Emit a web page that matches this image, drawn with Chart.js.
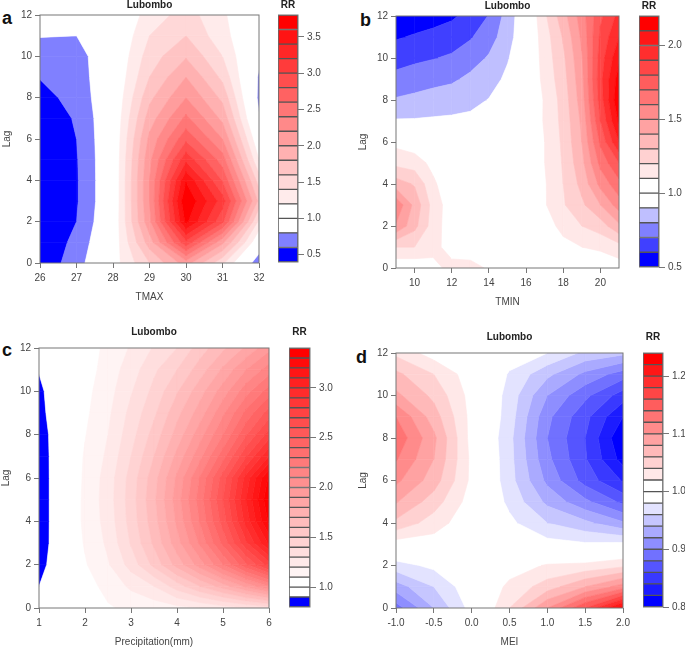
<!DOCTYPE html>
<html>
<head>
<meta charset="utf-8">
<title>Lubombo RR</title>
<script src="https://cdn.jsdelivr.net/npm/chart.js@4"></script>
<style>
  html, body { margin: 0; background: #fff; }
  #page { position: relative; width: 685px; height: 648px; overflow: hidden; }
  canvas { position: absolute; }
  .tag { position: absolute; font: bold 18px "Liberation Sans", Arial, sans-serif; color: #111; line-height: 18px; }
</style>
</head>
<body>
<div id="page">
  <div class="tag" style="left:2px;top:9px">a</div>
  <div class="tag" style="left:360px;top:11px">b</div>
  <div class="tag" style="left:2px;top:341px">c</div>
  <div class="tag" style="left:356px;top:348px">d</div>
</div>
<script>
const lags = [0, 1, 2, 3, 4, 5, 6, 7, 8, 9, 10, 11, 12];
const lagTicks = [0, 2, 4, 6, 8, 10, 12];

// panel a
const tmaxX = [26, 27, 28, 29, 30, 31, 32];
const tmaxRR = [
  [.45, .71, 1.1, 1.6, 2.1, 1.44, .64],
  [.42, .66, 1.05, 1.9, 2.95, 2.05, 1.0],
  [.42, .6, 1.02, 2.15, 3.65, 2.85, 1.35],
  [.42, .58, 1, 2.2, 3.79, 3.1, 1.75],
  [.42, .58, 1, 2.2, 3.58, 2.78, 1.5],
  [.42, .585, 1, 2.15, 3.15, 2.5, 1.2],
  [.43, .6, 1, 2.05, 2.75, 2.2, 1.0],
  [.47, .62, 1, 1.9, 2.45, 1.95, .82],
  [.53, .67, .99, 1.75, 2.2, 1.75, .75],
  [.61, .7, .98, 1.6, 2.0, 1.55, .77],
  [.7, .72, .97, 1.5, 1.78, 1.4, .85],
  [.81, .8, .95, 1.4, 1.6, 1.27, .95],
  [.9, .87, 1, 1.27, 1.5, 1.22, 1.05],
];
const tmaxTicks = [26, 27, 28, 29, 30, 31, 32];
const tmaxLevels = [.4, .6, .8, 1, 1.2, 1.4, 1.6, 1.8, 2, 2.2, 2.4, 2.6, 2.8, 3, 3.2, 3.4, 3.6, 3.8];
const tmaxBarTicks = [.5, 1, 1.5, 2, 2.5, 3, 3.5];

// panel b
const tminX = [9, 10, 11, 12, 13, 14, 15, 16, 17, 18, 19, 20, 21];
const tminRR = [
  [1.02, 1.02, 1.07, 1.13, 1.13, 1.09, 1.04, 1, 1, 1, 1, 1.02, 1.05],
  [1.2, 1.2, 1.13, 1.06, 1.05, 1.03, 1.01, 1, 1.01, 1.06, 1.1, 1.12, 1.16],
  [1.49, 1.33, 1.15, 1.04, 1.03, 1.01, 1, 1, 1.04, 1.14, 1.2, 1.25, 1.38],
  [1.58, 1.37, 1.16, 1.04, 1.02, 1, 1, 1, 1.09, 1.19, 1.28, 1.4, 1.55],
  [1.35, 1.29, 1.12, 1.02, 1.01, 1, 1, 1, 1.09, 1.2, 1.33, 1.53, 1.67],
  [1.17, 1.15, 1.07, 1.01, 1, 1, 1, 1, 1.1, 1.21, 1.37, 1.63, 1.8],
  [1.07, 1.04, 1, 1, .99, .99, 1, 1, 1.1, 1.22, 1.4, 1.72, 2],
  [.91, .91, .915, .92, .93, .96, 1, 1.01, 1.11, 1.23, 1.42, 1.8, 2.12],
  [.81, .825, .84, .85, .865, .905, .97, 1, 1.11, 1.24, 1.45, 1.85, 2.19],
  [.73, .75, .77, .785, .82, .85, .925, 1, 1.13, 1.26, 1.47, 1.87, 2.15],
  [.66, .68, .695, .715, .76, .81, .89, 1, 1.14, 1.28, 1.49, 1.85, 2.08],
  [.59, .61, .63, .65, .69, .76, .85, 1, 1.15, 1.31, 1.52, 1.82, 2],
  [.53, .545, .56, .585, .63, .705, .84, .99, 1.18, 1.36, 1.55, 1.78, 1.93],
];
const tminTicks = [10, 12, 14, 16, 18, 20];
const tminLevels = [.5, .6, .7, .8, .9, 1, 1.1, 1.2, 1.3, 1.4, 1.5, 1.6, 1.7, 1.8, 1.9, 2, 2.1, 2.2];
const tminBarTicks = [.5, 1, 1.5, 2];

// panel c
const precipX = [1, 1.5, 2, 2.5, 3, 3.5, 4, 4.5, 5, 5.5, 6];
const precipRR = [
  [.98, 1, 1.03, 1.09, 1.12, 1.14, 1.17, 1.2, 1.25, 1.3, 1.35],
  [.9, .97, 1.06, 1.13, 1.22, 1.3, 1.45, 1.6, 1.75, 1.92, 2.1],
  [.86, .98, 1.09, 1.19, 1.34, 1.53, 1.74, 1.95, 2.2, 2.48, 2.75],
  [.83, .99, 1.11, 1.22, 1.41, 1.62, 1.86, 2.12, 2.43, 2.78, 3.12],
  [.82, 1, 1.12, 1.24, 1.44, 1.66, 1.92, 2.21, 2.55, 2.94, 3.32],
  [.82, 1, 1.12, 1.25, 1.45, 1.68, 1.95, 2.25, 2.6, 3, 3.39],
  [.82, 1, 1.115, 1.245, 1.44, 1.66, 1.92, 2.21, 2.55, 2.94, 3.32],
  [.83, .99, 1.11, 1.22, 1.4, 1.6, 1.83, 2.07, 2.36, 2.69, 3],
  [.85, .97, 1.095, 1.2, 1.36, 1.54, 1.74, 1.96, 2.2, 2.49, 2.75],
  [.87, .97, 1.08, 1.18, 1.33, 1.48, 1.67, 1.85, 2.08, 2.33, 2.55],
  [.88, .97, 1.07, 1.16, 1.29, 1.43, 1.59, 1.76, 1.95, 2.16, 2.35],
  [.905, .98, 1.05, 1.145, 1.25, 1.38, 1.5, 1.65, 1.82, 2, 2.15],
  [.93, .99, 1.04, 1.13, 1.21, 1.31, 1.4, 1.55, 1.68, 1.82, 1.97],
];
const precipTicks = [1, 2, 3, 4, 5, 6];
const precipLevels = [.8, .9, 1, 1.1, 1.2, 1.3, 1.4, 1.5, 1.6, 1.7, 1.8, 1.9, 2, 2.1, 2.2, 2.3, 2.4, 2.5, 2.6, 2.7, 2.8, 2.9, 3, 3.1, 3.2, 3.3, 3.4];
const precipBarTicks = [1, 1.5, 2, 2.5, 3];

// panel d
const meiX = [-1, -.5, 0, .5, 1, 1.5, 2];
const meiRR = [
  [.89, .94, .988, 1.04, 1.1, 1.16, 1.23],
  [.93, .96, .995, 1.025, 1.05, 1.08, 1.11],
  [.972, .985, 1, 1.01, 1.022, 1.025, 1.035],
  [1.01, 1.01, 1, .99, .988, .983, .985],
  [1.055, 1.03, 1.005, .985, .96, .945, .923],
  [1.082, 1.05, 1.01, .975, .935, .905, .875],
  [1.105, 1.07, 1.015, .968, .915, .872, .838],
  [1.122, 1.08, 1.015, .967, .905, .862, .812],
  [1.135, 1.085, 1.012, .966, .9, .86, .802],
  [1.12, 1.07, 1.013, .97, .905, .866, .82],
  [1.085, 1.055, 1.012, .972, .92, .885, .85],
  [1.065, 1.04, 1.008, .978, .945, .915, .89],
  [1.035, 1.01, 1, .99, .98, .955, .945],
];
const meiTicks = [-1, -.5, 0, .5, 1, 1.5, 2];
const meiLevels = [.8, .82, .84, .86, .88, .9, .92, .94, .96, .98, 1, 1.02, 1.04, 1.06, 1.08, 1.1, 1.12, 1.14, 1.16, 1.18, 1.2, 1.22, 1.24];
const meiBarTicks = [.8, .9, 1, 1.1, 1.2];

const FONT = '"Liberation Sans", Arial, sans-serif';
const INK = "#444";
const FRAME = "#777";
Chart.defaults.font.family = FONT;
Chart.defaults.font.size = 10;
Chart.defaults.color = INK;
Chart.defaults.animation = false;
Chart.defaults.responsive = false;

// blue below the two white bands around RR 1, red above
function bandColors(blues, reds) {
  const out = [];
  for (let i = 0; i < blues; i++) { const c = Math.round(255 * i / blues); out.push(`rgb(${c},${c},255)`); }
  out.push("#fff", "#fff");
  for (let i = reds - 1; i >= 0; i--) { const c = Math.round(255 * i / reds); out.push(`rgb(255,${c},${c})`); }
  return out;
}

// keep the part of a cell polygon where the RR value is on the wanted side of a level
function clip(poly, level, keepAbove) {
  const out = [];
  poly.forEach((p, i) => {
    const q = poly[(i + 1) % poly.length];
    const pIn = keepAbove ? p.v >= level : p.v <= level;
    const qIn = keepAbove ? q.v >= level : q.v <= level;
    if (pIn) out.push(p);
    if (pIn !== qIn) {
      const t = (level - p.v) / (q.v - p.v);
      out.push({ x: p.x + t * (q.x - p.x), y: p.y + t * (q.y - p.y), v: level });
    }
  });
  return out;
}

const contourPlugin = {
  id: "contour",
  beforeDatasetsDraw(chart, args, opts) {
    const { ctx, chartArea: area, scales } = chart;
    const { xs, rows, levels, colors } = opts;
    ctx.save();
    ctx.beginPath();
    ctx.rect(area.left, area.top, area.width, area.height);
    ctx.clip();
    ctx.lineWidth = 0.6;
    for (let j = 0; j < rows.length - 1; j++) {
      for (let i = 0; i < xs.length - 1; i++) {
        const cell = [[i, j], [i + 1, j], [i + 1, j + 1], [i, j + 1]].map(([a, b]) => ({
          x: scales.x.getPixelForValue(xs[a]), y: scales.y.getPixelForValue(lags[b]), v: rows[b][a],
        }));
        colors.forEach((color, k) => {
          let poly = clip(cell, levels[k], true);
          if (poly.length) poly = clip(poly, levels[k + 1], false);
          if (poly.length < 3) return;
          ctx.fillStyle = ctx.strokeStyle = color;
          ctx.beginPath();
          poly.forEach((p, n) => (n ? ctx.lineTo(p.x, p.y) : ctx.moveTo(p.x, p.y)));
          ctx.closePath();
          ctx.fill();
          ctx.stroke();
        });
      }
    }
    ctx.restore();
  },
};

// title above the plot box, and the box itself
const framePlugin = {
  id: "frame",
  afterDraw(chart, args, opts) {
    const { ctx, chartArea: a } = chart;
    ctx.save();
    ctx.strokeStyle = FRAME;
    ctx.lineWidth = 1;
    ctx.strokeRect(a.left, a.top, a.width, a.height);
    ctx.fillStyle = "#222";
    ctx.font = `bold 10px ${FONT}`;
    ctx.textAlign = "center";
    ctx.textBaseline = "middle";
    ctx.fillText(opts.text, (a.left + a.right) / 2, a.top - opts.gap);
    ctx.restore();
  },
};

function addCanvas(left, top, width, height) {
  const canvas = document.createElement("canvas");
  canvas.width = width;
  canvas.height = height;
  canvas.style.left = left + "px";
  canvas.style.top = top + "px";
  document.getElementById("page").appendChild(canvas);
  return canvas;
}

const setTicks = (values) => (scale) => { scale.ticks = values.map((value) => ({ value })); };
const tickGrid = (length) => ({ drawOnChartArea: false, color: FRAME, tickLength: length });

function contourPanel(box, xs, rows, levels, colors, xTicks, xLabel, fmt, titleGap) {
  const [left, top, right, bottom] = box;
  const padTop = 24;
  const points = rows.flatMap((row, j) => row.map((v, i) => ({ x: xs[i], y: lags[j], v })));
  new Chart(addCanvas(left - 40, top - padTop, right - left + 40 + 16, bottom - top + padTop + 40), {
    type: "scatter",
    data: { datasets: [{ data: points, pointRadius: 0 }] },
    plugins: [contourPlugin, framePlugin],
    options: {
      layout: { padding: { top: padTop, right: 16, left: 0, bottom: 0 } },
      plugins: {
        legend: { display: false }, tooltip: { enabled: false },
        contour: { xs, rows, levels, colors },
        frame: { text: "Lubombo", gap: titleGap },
      },
      scales: {
        x: {
          type: "linear", min: xs[0], max: xs[xs.length - 1],
          grid: tickGrid(5), border: { display: false },
          afterBuildTicks: setTicks(xTicks),
          afterFit: (s) => { s.height = 40; },
          ticks: { autoSkip: false, maxRotation: 0, padding: 4, color: INK, callback: fmt },
          title: { display: true, text: xLabel, color: INK, padding: 0, font: { size: 10 } },
        },
        y: {
          type: "linear", min: 0, max: 12,
          grid: tickGrid(5), border: { display: false },
          afterBuildTicks: setTicks(lagTicks),
          afterFit: (s) => { s.width = 40; },
          ticks: { autoSkip: false, padding: 3, color: INK },
          title: { display: true, text: "Lag", color: INK, padding: 1, font: { size: 10 } },
        },
      },
    },
  });
}

function colorBar(box, levels, colors, ticks, titleGap) {
  const [left, top, right, bottom] = box;
  const padTop = 24;
  const datasets = colors.map((color, k) => ({
    data: [[levels[k], levels[k + 1]]],
    backgroundColor: color, borderColor: "#555", borderWidth: 1, borderSkipped: false,
    barPercentage: 1, categoryPercentage: 1, grouped: false,
  }));
  new Chart(addCanvas(left, top - padTop, right - left + 30, bottom - top + padTop + 8), {
    type: "bar",
    data: { labels: ["RR"], datasets },
    plugins: [framePlugin],
    options: {
      layout: { padding: { top: padTop, bottom: 8, left: 0, right: 0 } },
      plugins: {
        legend: { display: false }, tooltip: { enabled: false },
        frame: { text: "RR", gap: titleGap },
      },
      scales: {
        x: { display: false },
        y: {
          position: "right", min: levels[0], max: levels[levels.length - 1],
          grid: tickGrid(6), border: { display: false },
          afterBuildTicks: setTicks(ticks),
          afterFit: (s) => { s.width = 30; },
          ticks: { autoSkip: false, padding: 3, color: INK, callback: (v) => v.toFixed(1) },
        },
      },
    },
  });
}

const plain = (v) => String(v);
const oneDec = (v) => v.toFixed(1);

contourPanel([40, 15, 259, 263], tmaxX, tmaxRR, tmaxLevels, bandColors(2, 13), tmaxTicks, "TMAX", plain, 10);
colorBar([278, 15, 298, 263], tmaxLevels, bandColors(2, 13), tmaxBarTicks, 10);

contourPanel([396, 16, 619, 268], tminX, tminRR, tminLevels, bandColors(4, 11), tminTicks, "TMIN", plain, 10);
colorBar([639, 16, 659, 268], tminLevels, bandColors(4, 11), tminBarTicks, 10);

contourPanel([39, 348, 269, 608], precipX, precipRR, precipLevels, bandColors(1, 23), precipTicks, "Precipitation(mm)", plain, 16);
colorBar([289, 348, 310, 608], precipLevels, bandColors(1, 23), precipBarTicks, 16);

contourPanel([396, 353, 623, 608], meiX, meiRR, meiLevels, bandColors(9, 11), meiTicks, "MEI", oneDec, 16);
colorBar([643, 353, 663, 608], meiLevels, bandColors(9, 11), meiBarTicks, 16);
</script>
</body>
</html>
